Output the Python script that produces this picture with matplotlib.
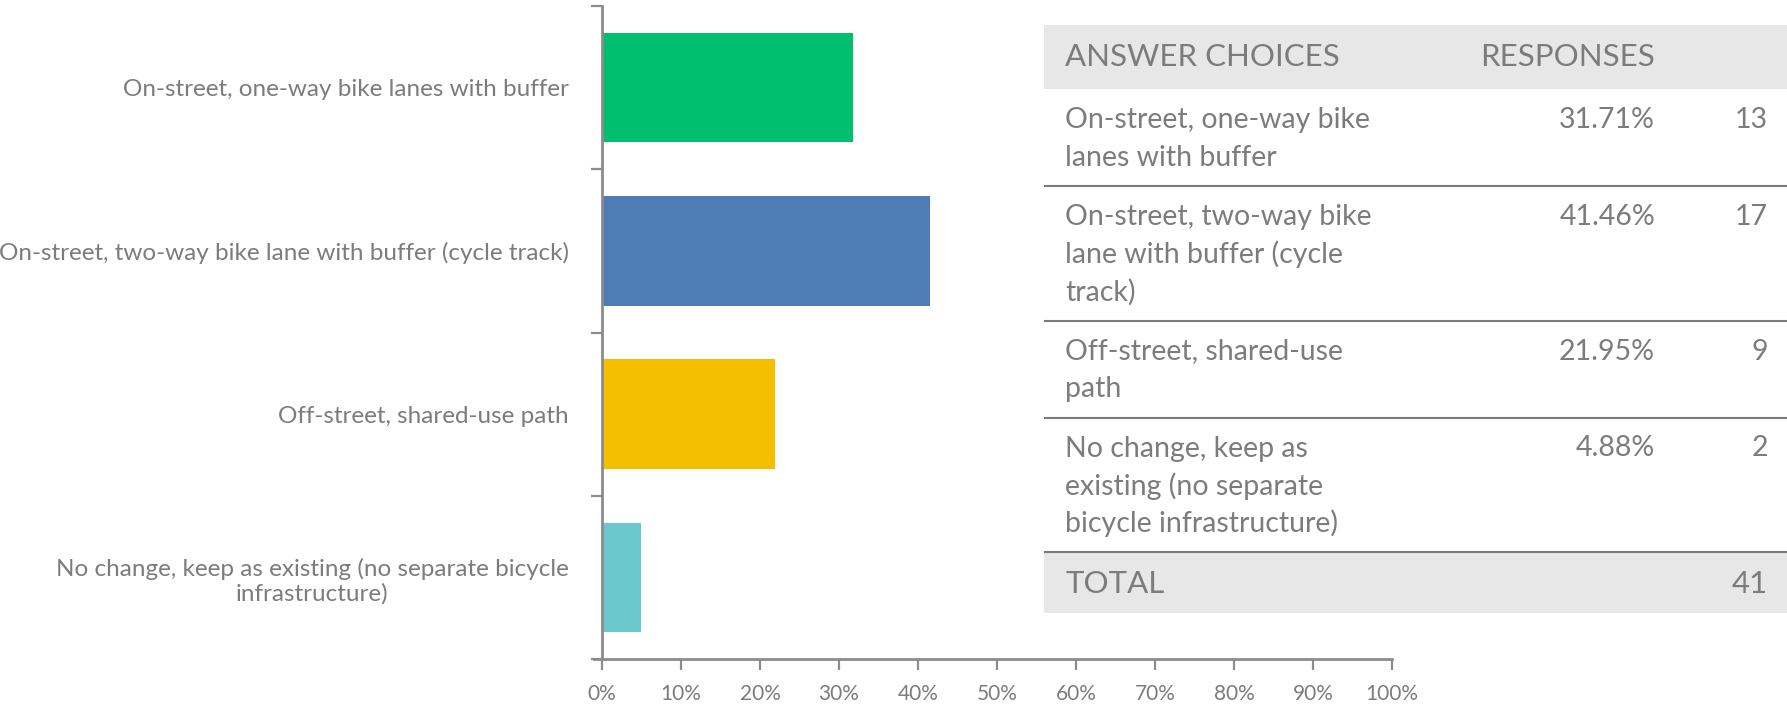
import matplotlib.pyplot as plt
from matplotlib.patches import Rectangle
from matplotlib.ticker import FixedLocator, PercentFormatter

plt.rcParams['font.family'] = ['Lato', 'DejaVu Sans']

# survey answers
choices = [
    "On-street, one-way bike lanes with buffer",
    "On-street, two-way bike lane with buffer (cycle track)",
    "Off-street, shared-use path",
    "No change, keep as existing (no separate bicycle\ninfrastructure)",
]
table_choices = [
    ["On-street, one-way bike", "lanes with buffer"],
    ["On-street, two-way bike", "lane with buffer (cycle", "track)"],
    ["Off-street, shared-use", "path"],
    ["No change, keep as", "existing (no separate", "bicycle infrastructure)"],
]
percents = [31.71, 41.46, 21.95, 4.88]
counts = [13, 17, 9, 2]
total = 41
colors = ["#00bf6f", "#507cb6", "#f6be00", "#6bc8cd"]

text_grey = "#7c7c7c"
axis_grey = "#8c8c8c"

W, H = 1787, 705
fig = plt.figure(figsize=(W / 100, H / 100), dpi=100)

# bar chart
ax = fig.add_axes([602 / W, 46 / H, 790 / W, 653 / H])
ypos = list(range(len(choices)))
ax.barh(ypos, percents, height=0.67, color=colors)
ax.set_xlim(0, 100)
ax.set_ylim(len(choices) - 0.5, -0.5)
ax.set_xticks(range(0, 101, 10))
ax.xaxis.set_major_formatter(PercentFormatter(decimals=0))
ax.set_yticks(ypos)
ax.set_yticklabels(choices, fontsize=17.5, color=text_grey, ha='right')
ax.yaxis.set_minor_locator(FixedLocator([y - 0.5 for y in range(len(choices) + 1)]))
ax.tick_params(axis='y', which='major', length=0, pad=24)
ax.tick_params(axis='y', which='minor', length=8, width=1.6, color=axis_grey)
ax.tick_params(axis='x', length=8, width=1.6, color=axis_grey, labelcolor=text_grey,
               labelsize=15, pad=10)
for side in ['top', 'right']:
    ax.spines[side].set_visible(False)
for side in ['left', 'bottom']:
    ax.spines[side].set_color(axis_grey)
    ax.spines[side].set_linewidth(2)
ax.spines['bottom'].set_bounds(-1, 100)
for lab in ax.get_yticklabels():
    lab.set_multialignment('center')

# response table, laid out in pixel units
tx0, tx1 = 1044, W
ty0, ty1 = 25, 613
tab = fig.add_axes([tx0 / W, (H - ty1) / H, (tx1 - tx0) / W, (ty1 - ty0) / H])
tab.set_xlim(0, tx1 - tx0)
tab.set_ylim(ty1 - ty0, 0)
tab.axis('off')

line_h = 37.5
pad = 22
text_x = 21
pct_x = 611
cnt_x = 724
fs = 20.5
hfs = 22.5
hdr_h = 64

tab.add_patch(Rectangle((0, 0), tx1 - tx0, hdr_h, color="#e7e7e7", lw=0))
tab.text(text_x, hdr_h / 2, "ANSWER CHOICES", fontsize=hfs, color=text_grey, va='center')
tab.text(pct_x, hdr_h / 2, "RESPONSES", fontsize=hfs, color=text_grey, va='center', ha='right')

y = hdr_h
for lines, p, c in zip(table_choices, percents, counts):
    top = y
    for i, line in enumerate(lines):
        tab.text(text_x, top + 31 + i * line_h, line, fontsize=fs, color=text_grey, va='center')
    tab.text(pct_x, top + 31, f"{p:.2f}%", fontsize=fs, color=text_grey, va='center', ha='right')
    tab.text(cnt_x, top + 31, str(c), fontsize=fs, color=text_grey, va='center', ha='right')
    y = top + len(lines) * line_h + pad
    tab.plot([0, tx1 - tx0], [y, y], color="#7a7a7a", lw=1.5)

tab.add_patch(Rectangle((0, y), tx1 - tx0, hdr_h, color="#e7e7e7", lw=0))
tab.text(text_x, y + hdr_h / 2, "TOTAL", fontsize=hfs, color=text_grey, va='center')
tab.text(cnt_x, y + hdr_h / 2, str(total), fontsize=hfs, color=text_grey, va='center', ha='right')

fig.savefig("out.png", dpi=100)
